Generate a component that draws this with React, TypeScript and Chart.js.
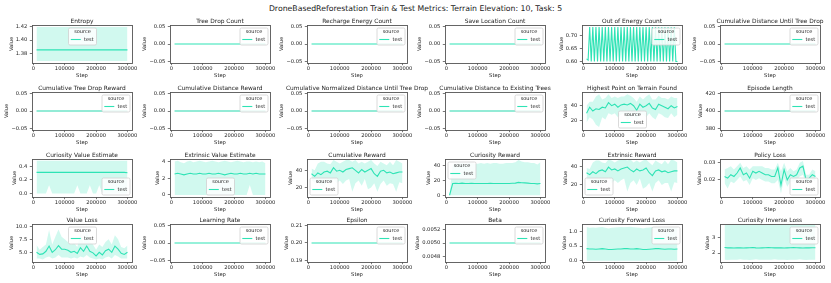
import React, { useEffect, useRef } from 'react';
import { Chart, registerables } from 'chart.js';
Chart.register(...registerables);

const FONT = "'DejaVu Sans', sans-serif";
const LINE = '#2fe3b5';
const BAND = 'rgba(47,227,181,0.22)';
const PALE = '#93ebd6';
const SPINE = '#555555';
const TEXT = '#222222';

const FIG_TITLE = 'DroneBasedReforestation Train & Test Metrics: Terrain Elevation: 10, Task: 5';

const STEPS = [10000, 20000, 30000, 40000, 50000, 60000, 70000, 80000, 90000, 100000, 110000, 120000, 130000, 140000, 150000, 160000, 170000, 180000, 190000, 200000, 210000, 220000, 230000, 240000, 250000, 260000, 270000, 280000, 290000, 300000];
const ENERGY_STEPS = [10000, 15000, 20000, 25000, 30000, 35000, 40000, 45000, 50000, 55000, 60000, 65000, 70000, 75000, 80000, 85000, 90000, 95000, 100000, 105000, 110000, 115000, 120000, 125000, 130000, 135000, 140000, 145000, 150000, 155000, 160000, 165000, 170000, 175000, 180000, 185000, 190000, 195000, 200000, 205000, 210000, 215000, 220000, 225000, 230000, 235000, 240000, 245000, 250000, 255000, 260000, 265000, 270000, 275000, 280000, 285000, 290000, 295000, 300000];
const X_TICKS = [0, 100000, 200000, 300000];
const X_TICK_LABELS = ['0', '100000', '200000', '300000'];
const X_MIN = -4500;
const X_MAX = 314500;

const zeroSeries = [0, 0, 0, 0, 0, 0, 0, 0, 0, 0, 0, 0, 0, 0, 0, 0, 0, 0, 0, 0, 0, 0, 0, 0, 0, 0, 0, 0, 0, 0];

const entropyMean = [1.385, 1.385, 1.385, 1.385, 1.385, 1.385, 1.385, 1.385, 1.385, 1.385, 1.385, 1.385, 1.385, 1.385, 1.385, 1.385, 1.385, 1.385, 1.385, 1.385, 1.385, 1.385, 1.385, 1.385, 1.385, 1.385, 1.385, 1.385, 1.385, 1.385];
const entropyLo = [1.368, 1.368, 1.368, 1.368, 1.368, 1.368, 1.368, 1.368, 1.368, 1.368, 1.368, 1.368, 1.368, 1.368, 1.368, 1.368, 1.368, 1.368, 1.368, 1.368, 1.368, 1.368, 1.368, 1.368, 1.368, 1.368, 1.368, 1.368, 1.368, 1.368];
const entropyHi = [1.42, 1.42, 1.42, 1.42, 1.42, 1.42, 1.42, 1.42, 1.42, 1.42, 1.42, 1.42, 1.42, 1.42, 1.42, 1.42, 1.42, 1.42, 1.42, 1.42, 1.42, 1.42, 1.42, 1.42, 1.42, 1.42, 1.42, 1.42, 1.42, 1.42];

const outOfEnergy = [0.61, 0.605, 0.735, 0.6, 0.735, 0.6, 0.735, 0.6, 0.735, 0.6, 0.735, 0.6, 0.735, 0.6, 0.735, 0.6, 0.735, 0.6, 0.735, 0.6, 0.735, 0.6, 0.735, 0.6, 0.735, 0.6, 0.735, 0.6, 0.735, 0.6, 0.735, 0.6, 0.735, 0.6, 0.735, 0.6, 0.735, 0.6, 0.735, 0.6, 0.735, 0.6, 0.735, 0.6, 0.735, 0.6, 0.735, 0.6, 0.735, 0.6, 0.735, 0.6, 0.735, 0.6, 0.735, 0.6, 0.735, 0.6, 0.6];

const highestMean = [30, 38, 33, 36, 35, 38, 37, 44, 40, 42, 38, 41, 42, 41, 43, 40, 34, 42, 38, 40, 43, 37, 35, 42, 40, 38, 36, 40, 37, 39];
const highestLo = [18, 25, 22, 15, 12, 25, 22, 30, 28, 30, 25, 28, 30, 20, 25, 28, 20, 30, 28, 25, 30, 25, 22, 30, 28, 25, 24, 30, 25, 28];
const highestHi = [40, 45, 45, 52, 55, 48, 50, 55, 50, 52, 50, 52, 52, 55, 53, 50, 45, 52, 48, 52, 55, 48, 48, 53, 50, 50, 48, 52, 50, 50];

const episodeLength = [400, 400, 400, 400, 400, 400, 400, 400, 400, 400, 400, 400, 400, 400, 400, 400, 400, 400, 400, 400, 400, 400, 400, 400, 400, 400, 400, 400, 400, 400];

const curValMean = [0.31, 0.31, 0.31, 0.31, 0.31, 0.31, 0.31, 0.31, 0.31, 0.31, 0.31, 0.31, 0.31, 0.31, 0.31, 0.31, 0.31, 0.31, 0.31, 0.31, 0.31, 0.31, 0.31, 0.31, 0.31, 0.31, 0.31, 0.31, 0.31, 0.305];
const curValLo = [0, 0, 0, 0, 0.12, 0, 0, 0, 0, 0, 0, 0, 0, 0.12, 0, 0, 0, 0.12, 0, 0, 0.12, 0, 0, 0, 0, 0, 0, 0, 0, 0];
const curValHi = [0.48, 0.48, 0.48, 0.48, 0.48, 0.48, 0.48, 0.48, 0.48, 0.48, 0.48, 0.48, 0.48, 0.48, 0.48, 0.48, 0.48, 0.48, 0.48, 0.48, 0.48, 0.48, 0.48, 0.48, 0.48, 0.48, 0.48, 0.48, 0.48, 0.48];

const extValMean = [2.5, 2.6, 2.5, 2.4, 2.5, 2.6, 2.5, 2.5, 2.6, 2.5, 2.5, 2.6, 2.5, 2.5, 2.6, 2.5, 2.4, 2.5, 2.6, 2.5, 2.5, 2.6, 2.5, 2.5, 2.6, 2.5, 2.6, 2.5, 2.5, 2.5];
const extValLo = [0, 0, 0, 0, 0, 0, 0, 0, 0, 0, 0, 0, 0, 0, 0, 0, 0, 0, 0, 0, 0, 0, 0, 0, 1.2, 0, 0, 0, 0, 0];
const extValHi = [4.0, 4.1, 3.9, 3.8, 4.0, 4.1, 3.9, 4.0, 4.1, 4.0, 3.9, 4.0, 4.1, 4.0, 3.9, 4.0, 4.1, 4.0, 3.9, 4.0, 4.1, 4.0, 3.9, 4.0, 4.0, 3.9, 4.0, 3.9, 4.0, 3.8];

const cumRewMean = [36, 33, 37, 35, 38, 39, 37, 43, 39, 40, 38, 41, 42, 43, 40, 37, 41, 38, 40, 42, 36, 33, 39, 40, 37, 38, 36, 37, 38, 38];
const cumRewLo = [28, 26, 27, 22, 20, 28, 25, 30, 25, 28, 24, 28, 30, 15, 25, 28, 22, 30, 18, 20, 25, 15, 24, 28, 22, 25, 24, 15, 26, 25];
const cumRewHi = [42, 40, 48, 50, 50, 48, 47, 52, 50, 48, 50, 52, 52, 50, 52, 48, 50, 48, 50, 52, 48, 45, 50, 48, 46, 50, 46, 52, 50, 48];

const curRewMean = [0, 16, 16.2, 16, 16.5, 16, 16, 16.3, 16, 16, 16, 16, 16, 16.2, 16, 16, 16, 16, 16, 16, 16.3, 16.5, 17.5, 17, 16.8, 16.5, 16, 16, 15.5, 16];
const curRewLo = [0, 0, 0, 0, 0, 0, 0, 0, 0, 0, 0, 0, 0, 0, 0, 0, 0, 0, 0, 0, 0, 0, 0, 0, 0, 0, 0, 0, 0, 0];
const curRewHi = [0, 42, 43, 43, 44, 43, 44, 44, 43, 43, 44, 43, 44, 43, 44, 44, 43, 43, 44, 44, 44, 45, 48, 46, 45, 45, 44, 44, 42, 45];

const extRewMean = [33, 31, 34, 32, 35, 36, 34, 39, 36, 37, 35, 37, 38, 39, 36, 34, 37, 35, 36, 38, 33, 30, 35, 36, 34, 35, 33, 34, 35, 35];
const extRewLo = [26, 24, 25, 20, 18, 26, 23, 28, 22, 25, 22, 25, 27, 13, 22, 25, 20, 27, 16, 18, 22, 13, 22, 25, 20, 22, 22, 13, 23, 22];
const extRewHi = [38, 37, 44, 46, 46, 44, 43, 47, 46, 44, 46, 47, 47, 46, 47, 44, 46, 44, 46, 47, 44, 41, 46, 44, 42, 46, 42, 47, 46, 44];

const polMean = [0.022, 0.021, 0.023, 0.022, 0.024, 0.027, 0.023, 0.024, 0.021, 0.025, 0.024, 0.025, 0.024, 0.023, 0.023, 0.022, 0.022, 0.027, 0.017, 0.026, 0.02, 0.023, 0.022, 0.023, 0.027, 0.028, 0.02, 0.021, 0.023, 0.022];
const polLo = [0.018, 0.015, 0.019, 0.018, 0.02, 0.022, 0.019, 0.02, 0.017, 0.021, 0.02, 0.021, 0.02, 0.019, 0.019, 0.018, 0.018, 0.02, 0.012, 0.021, 0.016, 0.019, 0.019, 0.02, 0.022, 0.023, 0.018, 0.019, 0.02, 0.019];
const polHi = [0.026, 0.027, 0.028, 0.026, 0.028, 0.03, 0.027, 0.028, 0.026, 0.028, 0.028, 0.028, 0.028, 0.027, 0.027, 0.026, 0.026, 0.03, 0.025, 0.03, 0.025, 0.027, 0.025, 0.026, 0.03, 0.031, 0.023, 0.023, 0.026, 0.025];

const vlossMean = [5.0, 4.6, 4.7, 5.2, 6.2, 5.0, 5.5, 6.3, 5.6, 5.6, 5.4, 5.0, 5.2, 4.8, 5.9, 5.2, 6.2, 5.2, 4.9, 4.3, 5.0, 4.5, 5.3, 5.6, 5.0, 6.2, 5.6, 4.8, 4.6, 5.0];
const vlossLo = [3.8, 3.8, 3.6, 4.0, 4.2, 3.8, 4.0, 4.5, 4.0, 4.0, 4.0, 3.8, 4.0, 3.8, 4.2, 4.0, 4.5, 4.0, 3.8, 3.6, 3.8, 3.6, 4.0, 4.2, 3.8, 4.5, 4.2, 3.8, 3.8, 3.8];
const vlossHi = [6.4, 5.5, 6.0, 6.5, 9.3, 6.5, 8.0, 9.4, 8.0, 7.5, 7.0, 6.5, 6.8, 6.0, 8.5, 6.8, 9.0, 7.0, 6.5, 5.5, 6.5, 6.0, 7.0, 7.5, 6.5, 8.3, 7.5, 6.0, 5.8, 6.3];

const learningRate = zeroSeries;
const epsilon = [0.2, 0.2, 0.2, 0.2, 0.2, 0.2, 0.2, 0.2, 0.2, 0.2, 0.2, 0.2, 0.2, 0.2, 0.2, 0.2, 0.2, 0.2, 0.2, 0.2, 0.2, 0.2, 0.2, 0.2, 0.2, 0.2, 0.2, 0.2, 0.2, 0.2];
const beta = [0.005, 0.005, 0.005, 0.005, 0.005, 0.005, 0.005, 0.005, 0.005, 0.005, 0.005, 0.005, 0.005, 0.005, 0.005, 0.005, 0.005, 0.005, 0.005, 0.005, 0.005, 0.005, 0.005, 0.005, 0.005, 0.005, 0.005, 0.005, 0.005, 0.005];

const fwdMean = [0.41, 0.4, 0.4, 0.39, 0.4, 0.41, 0.4, 0.38, 0.38, 0.39, 0.4, 0.4, 0.41, 0.41, 0.4, 0.4, 0.41, 0.4, 0.38, 0.38, 0.39, 0.4, 0.41, 0.41, 0.4, 0.39, 0.4, 0.4, 0.39, 0.4];
const fwdLo = [0, 0, 0, 0, 0, 0, 0, 0, 0, 0, 0, 0, 0, 0, 0, 0, 0, 0, 0, 0, 0, 0, 0, 0, 0, 0, 0, 0, 0, 0];
const fwdHi = [1.15, 1.12, 1.13, 1.12, 1.14, 1.15, 1.12, 1.1, 1.12, 1.13, 1.14, 1.15, 1.14, 1.15, 1.16, 1.14, 1.13, 1.12, 1.1, 1.12, 1.13, 1.15, 1.14, 1.15, 1.13, 1.12, 1.13, 1.14, 1.12, 1.13];

const invMean = [2.35, 2.33, 2.33, 2.32, 2.34, 2.33, 2.32, 2.33, 2.34, 2.35, 2.33, 2.32, 2.33, 2.34, 2.35, 2.34, 2.33, 2.34, 2.33, 2.32, 2.33, 2.34, 2.35, 2.34, 2.33, 2.32, 2.34, 2.33, 2.34, 2.34];
const invLo = [1.58, 1.56, 1.58, 1.57, 1.58, 1.6, 1.57, 1.58, 1.56, 1.58, 1.6, 1.58, 1.57, 1.58, 1.57, 1.58, 1.6, 1.58, 1.57, 1.58, 1.56, 1.58, 1.57, 1.58, 1.6, 1.58, 1.56, 1.57, 1.58, 1.57];
const invHi = [3.78, 3.78, 3.78, 3.78, 3.78, 3.78, 3.78, 3.78, 3.78, 3.78, 3.78, 3.78, 3.78, 3.78, 3.78, 3.78, 3.78, 3.78, 3.78, 3.78, 3.78, 3.78, 3.78, 3.78, 3.78, 3.78, 3.78, 3.78, 3.78, 3.78];

const ZERO_TICKS = [-0.05, 0, 0.05];
const ZERO_LABELS = ['\u22120.05', '0.00', '0.05'];

type Sub = {
  title: string;
  mean: number[];
  lo?: number[];
  hi?: number[];
  steps?: number[];
  yMin: number;
  yMax: number;
  yTicks: number[];
  yLabels: string[];
  legend: string;
  pale?: boolean;
};

const zeroSub = (title: string, legend: string, pale?: boolean): Sub => ({
  title, mean: zeroSeries, yMin: -0.055, yMax: 0.055, yTicks: ZERO_TICKS, yLabels: ZERO_LABELS, legend, pale,
});

const SUBS: Sub[] = [
  { title: 'Entropy', mean: entropyMean, lo: entropyLo, hi: entropyHi, yMin: 1.365, yMax: 1.423, yTicks: [1.38, 1.4, 1.42], yLabels: ['1.38', '1.40', '1.42'], legend: 'uc' },
  zeroSub('Tree Drop Count', 'ur'),
  zeroSub('Recharge Energy Count', 'ur'),
  zeroSub('Save Location Count', 'ur'),
  { title: 'Out of Energy Count', mean: outOfEnergy, steps: ENERGY_STEPS, yMin: 0.594, yMax: 0.743, yTicks: [0.6, 0.65, 0.7], yLabels: ['0.60', '0.65', '0.70'], legend: 'ur' },
  zeroSub('Cumulative Distance Until Tree Drop', 'ur'),
  zeroSub('Cumulative Tree Drop Reward', 'ur', true),
  zeroSub('Cumulative Distance Reward', 'ur', true),
  zeroSub('Cumulative Normalized Distance Until Tree Drop', 'ur', true),
  zeroSub('Cumulative Distance to Existing Trees', 'ur', true),
  { title: 'Highest Point on Terrain Found', mean: highestMean, lo: highestLo, hi: highestHi, yMin: 8.2, yMax: 57.9, yTicks: [20, 40], yLabels: ['20', '40'], legend: 'lc' },
  { title: 'Episode Length', mean: episodeLength, yMin: 378, yMax: 422, yTicks: [380, 400, 420], yLabels: ['380', '400', '420'], legend: 'ur', pale: true },
  { title: 'Curiosity Value Estimate', mean: curValMean, lo: curValLo, hi: curValHi, yMin: -0.05, yMax: 0.505, yTicks: [0, 0.2, 0.4], yLabels: ['0.0', '0.2', '0.4'], legend: 'lr' },
  { title: 'Extrinsic Value Estimate', mean: extValMean, lo: extValLo, hi: extValHi, yMin: -0.25, yMax: 4.3, yTicks: [0, 2, 4], yLabels: ['0', '2', '4'], legend: 'lc' },
  { title: 'Cumulative Reward', mean: cumRewMean, lo: cumRewLo, hi: cumRewHi, yMin: 8.9, yMax: 53.2, yTicks: [20, 40], yLabels: ['20', '40'], legend: 'll' },
  { title: 'Curiosity Reward', mean: curRewMean, lo: curRewLo, hi: curRewHi, yMin: -2.4, yMax: 49.4, yTicks: [0, 20, 40], yLabels: ['0', '20', '40'], legend: 'ul' },
  { title: 'Extrinsic Reward', mean: extRewMean, lo: extRewLo, hi: extRewHi, yMin: 7.2, yMax: 47.6, yTicks: [20, 40], yLabels: ['20', '40'], legend: 'll' },
  { title: 'Policy Loss', mean: polMean, lo: polLo, hi: polHi, yMin: 0.01, yMax: 0.0322, yTicks: [0.02, 0.03], yLabels: ['0.02', '0.03'], legend: 'lr' },
  { title: 'Value Loss', mean: vlossMean, lo: vlossLo, hi: vlossHi, yMin: 3.14, yMax: 10.44, yTicks: [5, 7.5, 10], yLabels: ['5.0', '7.5', '10.0'], legend: 'uc' },
  { title: 'Learning Rate', mean: learningRate, yMin: -0.055, yMax: 0.055, yTicks: ZERO_TICKS, yLabels: ZERO_LABELS, legend: 'ur' },
  { title: 'Epsilon', mean: epsilon, yMin: 0.189, yMax: 0.211, yTicks: [0.19, 0.2, 0.21], yLabels: ['0.19', '0.20', '0.21'], legend: 'ur' },
  { title: 'Beta', mean: beta, yMin: 0.004725, yMax: 0.005275, yTicks: [0.0048, 0.005, 0.0052], yLabels: ['0.0048', '0.0050', '0.0052'], legend: 'ur' },
  { title: 'Curiosity Forward Loss', mean: fwdMean, lo: fwdLo, hi: fwdHi, yMin: -0.045, yMax: 1.25, yTicks: [0, 0.5, 1], yLabels: ['0.0', '0.5', '1.0'], legend: 'ur' },
  { title: 'Curiosity Inverse Loss', mean: invMean, lo: invLo, hi: invHi, yMin: 1.43, yMax: 3.85, yTicks: [2, 3], yLabels: ['2', '3'], legend: 'ur' },
];

const COL_X = [32, 169.5, 307, 444.5, 582, 720];
const BOX_W = 100;
const ROW_Y = [25, 92, 159, 224];
const BOX_H = 38;

const PAD_L = 40;
const PAD_T = 13;
const PAD_R = 30;
const PAD_B = 18;

function drawLegend(ctx: CanvasRenderingContext2D, a: { left: number; right: number; top: number; bottom: number }, loc: string) {
  const w = 28;
  const h = 17;
  const m = 2.5;
  let x: number;
  let y: number;
  if (loc[1] === 'r') x = a.right - m - w;
  else if (loc[1] === 'l') x = a.left + m;
  else x = (a.left + a.right) / 2 - w / 2;
  if (loc[0] === 'u') y = a.top + m;
  else y = a.bottom - m - h;
  ctx.save();
  ctx.beginPath();
  if ((ctx as any).roundRect) (ctx as any).roundRect(x + 0.5, y + 0.5, w, h, 1.5);
  else ctx.rect(x + 0.5, y + 0.5, w, h);
  ctx.fillStyle = 'rgba(255,255,255,0.85)';
  ctx.fill();
  ctx.strokeStyle = '#d0d0d0';
  ctx.lineWidth = 0.8;
  ctx.stroke();
  ctx.fillStyle = TEXT;
  ctx.font = `5px ${FONT}`;
  ctx.textAlign = 'center';
  ctx.textBaseline = 'middle';
  ctx.fillText('source', x + w / 2 + 0.5, y + 4.5);
  ctx.beginPath();
  ctx.moveTo(x + 2.8, y + 12);
  ctx.lineTo(x + 12.8, y + 12);
  ctx.strokeStyle = LINE;
  ctx.lineWidth = 1.1;
  ctx.stroke();
  ctx.textAlign = 'left';
  ctx.fillText('test', x + 16, y + 12);
  ctx.restore();
}

function SubChart({ sub, bx, by }: { sub: Sub; bx: number; by: number }) {
  const ref = useRef<HTMLCanvasElement>(null);
  const W = PAD_L + BOX_W + PAD_R;
  const H = PAD_T + BOX_H + PAD_B;
  useEffect(() => {
    const xs = sub.steps || STEPS;
    const pts = (ys: number[]) => xs.map((s, i) => ({ x: s, y: ys[i] }));
    const datasets: any[] = [];
    if (sub.hi && sub.lo) {
      datasets.push({ data: pts(sub.hi), borderWidth: 0, pointRadius: 0, fill: '+1', backgroundColor: BAND, borderColor: 'rgba(0,0,0,0)' });
      datasets.push({ data: pts(sub.lo), borderWidth: 0, pointRadius: 0, fill: false, borderColor: 'rgba(0,0,0,0)' });
    }
    datasets.push({
      data: pts(sub.mean),
      borderColor: sub.pale ? PALE : LINE,
      borderWidth: sub.pale ? 2.2 : 1.1,
      pointRadius: 0,
      fill: false,
      tension: 0,
    });
    const tickFont = { family: FONT, size: 5.2 };
    const deco = {
      id: 'deco',
      afterDraw(chart: any) {
        const ctx: CanvasRenderingContext2D = chart.ctx;
        const a = chart.chartArea;
        ctx.save();
        ctx.strokeStyle = SPINE;
        ctx.lineWidth = 0.9;
        ctx.strokeRect(Math.round(a.left) + 0.5, Math.round(a.top) + 0.5, Math.round(a.right - a.left), Math.round(a.bottom - a.top));
        ctx.fillStyle = TEXT;
        ctx.textAlign = 'center';
        ctx.textBaseline = 'alphabetic';
        ctx.font = `5.9px ${FONT}`;
        ctx.fillText(sub.title, (a.left + a.right) / 2, a.top - 2.5);
        ctx.font = `5.2px ${FONT}`;
        ctx.textBaseline = 'middle';
        ctx.fillText('Step', (a.left + a.right) / 2, a.bottom + 12.3);
        let widest = 0;
        for (const l of sub.yLabels) widest = Math.max(widest, ctx.measureText(l).width);
        const vx = a.left - 5 - widest - 4.3;
        ctx.translate(vx, (a.top + a.bottom) / 2);
        ctx.rotate(-Math.PI / 2);
        ctx.fillText('Value', 0, 0);
        ctx.restore();
        drawLegend(ctx, a, sub.legend);
      },
    };
    const chart = new Chart(ref.current as HTMLCanvasElement, {
      type: 'line',
      data: { datasets },
      options: {
        animation: false,
        responsive: false,
        maintainAspectRatio: false,
        devicePixelRatio: 1,
        layout: { padding: { left: 0, top: PAD_T, right: PAD_R, bottom: 0 } },
        plugins: { legend: { display: false }, tooltip: { enabled: false }, title: { display: false } },
        events: [],
        scales: {
          x: {
            type: 'linear',
            min: X_MIN,
            max: X_MAX,
            afterFit: (s: any) => { s.height = PAD_B; },
            afterBuildTicks: (s: any) => { s.ticks = X_TICKS.map((v) => ({ value: v })); },
            ticks: { font: tickFont, color: TEXT, padding: 0.5, maxRotation: 0, autoSkip: false, callback: (_v: any, i: number) => X_TICK_LABELS[i] },
            grid: { display: true, drawOnChartArea: false, drawTicks: true, tickLength: 2.2, color: SPINE, lineWidth: 0.8 },
            border: { display: false },
          },
          y: {
            type: 'linear',
            min: sub.yMin,
            max: sub.yMax,
            afterFit: (s: any) => { s.width = PAD_L; },
            afterBuildTicks: (s: any) => { s.ticks = sub.yTicks.map((v) => ({ value: v })); },
            ticks: { font: tickFont, color: TEXT, padding: 2.5, autoSkip: false, callback: (_v: any, i: number) => sub.yLabels[i] },
            grid: { display: true, drawOnChartArea: false, drawTicks: true, tickLength: 2.2, color: SPINE, lineWidth: 0.8 },
            border: { display: false },
          },
        },
      } as any,
      plugins: [deco],
    });
    return () => chart.destroy();
  }, []);
  return (
    <canvas
      ref={ref}
      width={W}
      height={H}
      style={{ position: 'absolute', left: bx - PAD_L, top: by - PAD_T, width: W, height: H }}
    />
  );
}

export default function App() {
  return (
    <div style={{ position: 'absolute', left: 0, top: 0, width: 831, height: 283, background: '#ffffff', overflow: 'hidden' }}>
      <div
        style={{
          position: 'absolute', left: 0, top: 3.6, width: 831, textAlign: 'center',
          fontFamily: FONT, fontSize: 7.75, lineHeight: '9px', color: TEXT, whiteSpace: 'nowrap',
        }}
      >
        {FIG_TITLE}
      </div>
      {SUBS.map((s, i) => (
        <SubChart key={i} sub={s} bx={COL_X[i % 6]} by={ROW_Y[Math.floor(i / 6)]} />
      ))}
    </div>
  );
}
